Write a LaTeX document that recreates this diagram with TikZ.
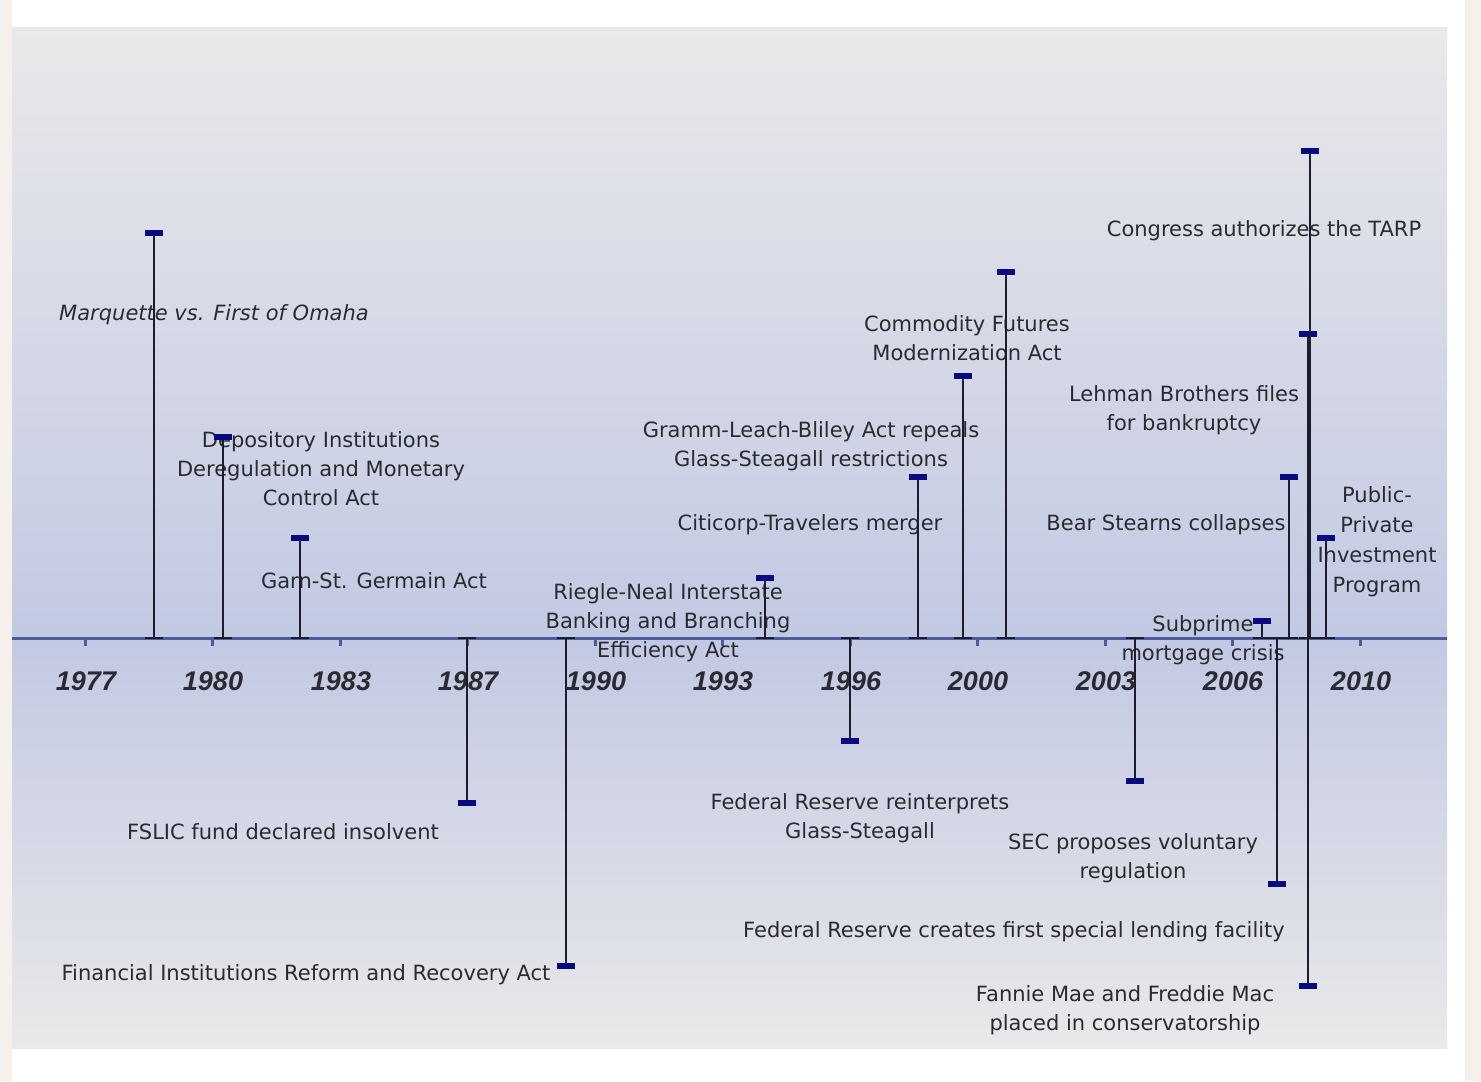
\documentclass[tikz,border=0pt]{standalone}
\usepackage{fontspec}
\setmainfont{DejaVu Sans}
\newfontfamily\yearfont{Liberation Sans}
\definecolor{cream}{HTML}{F5F0EB}
\definecolor{panelTop}{HTML}{E9E9EA}
\definecolor{panelMid}{HTML}{C2C9E3}
\definecolor{panelBot}{HTML}{E9E9E9}
\definecolor{axisc}{HTML}{4A5C9E}
\definecolor{stemc}{HTML}{1C1C2C}
\definecolor{capc}{HTML}{0A0A80}
\definecolor{txt}{HTML}{2A2A30}
\begin{document}
\begin{tikzpicture}[x=0.5pt,y=-0.5pt,
  lbl/.style={font=\fontsize{10.5}{14.5}\selectfont, text=txt, align=center, inner sep=0pt, yshift=-1.5pt},
  yr/.style={font=\yearfont\bfseries\itshape\fontsize{13.5}{16}\selectfont, text=txt, inner sep=0pt},
  capbar/.style={fill=capc, draw=none, rectangle, minimum width=9pt, minimum height=2.6pt, inner sep=0pt},
  stemline/.style={draw=stemc, line width=1.3pt},
  footline/.style={draw=stemc, line width=1pt},
  axisline/.style={draw=axisc, line width=1.5pt},
  tickline/.style={draw=axisc, line width=1.5pt}]
\useasboundingbox (0,0) rectangle (1481,1081);
% background
\fill[cream] (0,0) rectangle (1481,1081);
\fill[white] (12,0) rectangle (1465,1081);
\shade[top color=panelTop, bottom color=panelMid] (12,28) rectangle (1447,638);
\shade[top color=panelMid, bottom color=panelBot] (12,638) rectangle (1447,1048);
% axis
\coordinate (axL) at (12,638);
\coordinate (axR) at (1447,638);
\draw[axisline] (axL) -- (axR);
% ticks and years
\foreach \yy/\xx in {1977/85,1980/212,1983/340,1987/467,1990/595,1993/722,1996/850,2000/977,2003/1105,2006/1232,2010/1360}{
  \coordinate (t\yy) at (\xx,638);
  \draw[tickline] (t\yy) -- ++(0,8);
  \node[yr] (y\yy) at (\xx+1,681) {\yy};
}
% labels
\node[lbl, font=\fontsize{10.5}{14.5}\selectfont\itshape] (lMarq) at (214,312) {Marquette vs. First of Omaha};
\node[lbl] (lDIDMCA) at (321,466) {Depository Institutions\\Deregulation and Monetary\\Control Act};
\node[lbl] (lGarn) at (374,578) {Garn-St. Germain Act};
\node[lbl] (lFSLIC) at (283,829) {FSLIC fund declared insolvent};
\node[lbl] (lFIRRA) at (306,972) {Financial Institutions Reform and Recovery Act};
\node[lbl] (lRiegle) at (668,620) {Riegle-Neal Interstate\\Banking and Branching\\Efficiency Act};
\node[lbl] (lFedR) at (860,815) {Federal Reserve reinterprets\\Glass-Steagall};
\node[lbl] (lCiti) at (810,522) {Citicorp-Travelers merger};
\node[lbl] (lGLB) at (811,443) {Gramm-Leach-Bliley Act repeals\\Glass-Steagall restrictions};
\node[lbl] (lCFMA) at (967,335) {Commodity Futures\\Modernization Act};
\node[lbl] (lTARP) at (1264,228) {Congress authorizes the TARP};
\node[lbl] (lLehman) at (1184,407) {Lehman Brothers files\\for bankruptcy};
\node[lbl] (lBear) at (1166,522) {Bear Stearns collapses};
\node[lbl, font=\fontsize{10.5}{15}\selectfont] (lPPIP) at (1377,539) {Public-\\Private\\Investment\\Program};
\node[lbl] (lSub) at (1203,637) {Subprime\\mortgage crisis};
\node[lbl] (lSEC) at (1133,855) {SEC proposes voluntary\\regulation};
\node[lbl] (lFedL) at (1014,929) {Federal Reserve creates first special lending facility};
\node[lbl] (lFannie) at (1125,1007) {Fannie Mae and Freddie Mac\\placed in conservatorship};
% event stems
\foreach \n/\xx/\yy in {Marq/154/233, DIDMCA/223/437, Garn/300/538, FSLIC/467/803, FIRRA/566/966, Riegle/765/578, FedR/850/741, Citi/918/477, GLB/963/376, CFMA/1006/272, SEC/1135/781, Sub/1262/621, FedL/1277/884, Bear/1289/477, Lehman/1308/334, TARP/1310/151, Fannie/1308/986, PPIP/1326/538}{
  \coordinate (b\n) at (\xx,638);
  \coordinate (e\n) at (\xx,\yy);
  \draw[stemline] (b\n) -- (e\n);
  \draw[footline] ([xshift=-4.5pt]b\n) -- ([xshift=4.5pt]b\n);
  \node[capbar] (c\n) at (e\n) {};
}
\end{tikzpicture}
\end{document}
